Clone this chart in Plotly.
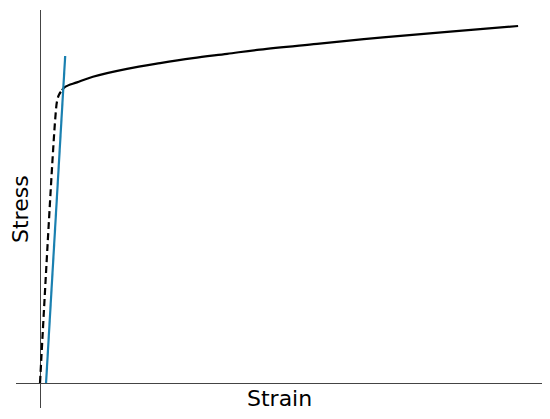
import plotly.graph_objects as go

# elastic part + knee (dashed)
elastic_strain = [0.0, 0.0048, 0.0054, 0.0060, 0.0069]
elastic_stress = [0, 371, 396, 404, 410]

# plastic part (solid)
plastic_strain = [0.0069, 0.0080, 0.0116, 0.0166, 0.0273, 0.0377, 0.0480,
                  0.0587, 0.0690, 0.0869, 0.1076, 0.1287, 0.15]
plastic_stress = [410, 415, 421, 429, 440, 448, 455, 461, 467, 475, 484, 492, 500]

# 0.2% offset line
offset_strain = [0.0019, 0.0079]
offset_stress = [0, 458]

fig = go.Figure()
fig.add_trace(go.Scatter(x=elastic_strain, y=elastic_stress, mode="lines",
                         line=dict(color="black", width=2.2, dash="7px,4px", shape="spline")))
fig.add_trace(go.Scatter(x=plastic_strain, y=plastic_stress, mode="lines",
                         line=dict(color="black", width=2.2, shape="spline")))
fig.add_trace(go.Scatter(x=offset_strain, y=offset_stress, mode="lines",
                         line=dict(color="#1a80b0", width=2.2)))

axis = dict(showgrid=False, showticklabels=False, ticks="", showline=False,
            zeroline=True, zerolinecolor="#444", zerolinewidth=1.3)

# page body has an 8px margin, so the figure is a bit smaller than the window
fig.update_layout(
    width=542, height=411,
    margin=dict(l=8, r=8, t=2, b=11),
    plot_bgcolor="white", paper_bgcolor="white",
    showlegend=False,
    font=dict(family="DejaVu Sans", color="black"),
    xaxis=dict(range=[-0.00753, 0.1575], **axis),
    yaxis=dict(range=[-35, 522.4], **axis),
    annotations=[
        dict(text="Strain", x=0.5, y=0.025, xref="paper", yref="paper",
             showarrow=False, font=dict(size=22), xanchor="center", yanchor="middle"),
        dict(text="Stress", x=0.0076, y=0.5, xref="paper", yref="paper", textangle=-90,
             showarrow=False, font=dict(size=22), xanchor="center", yanchor="middle"),
    ],
)

fig.write_html("out.html")
